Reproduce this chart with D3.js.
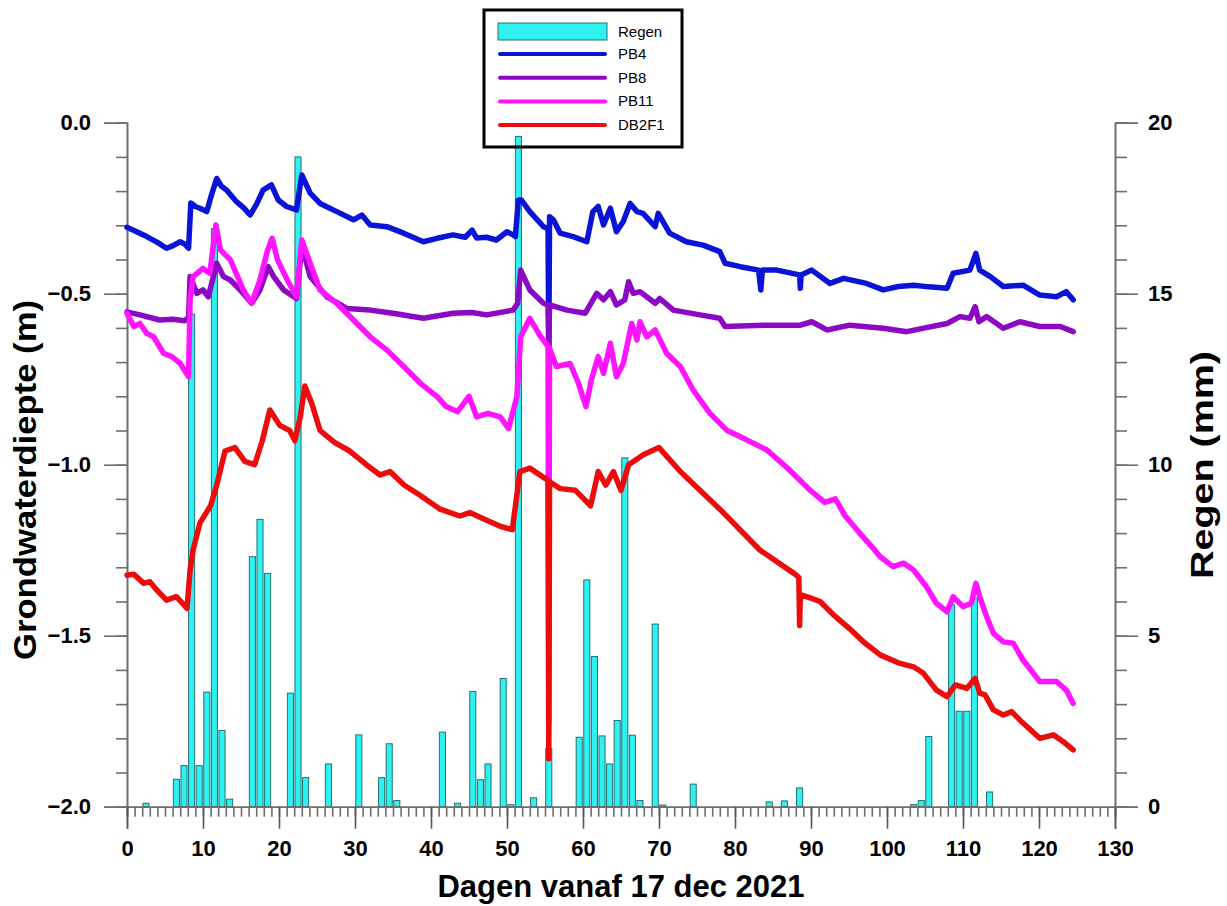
<!DOCTYPE html>
<html>
<head>
<meta charset="utf-8">
<script src="https://cdn.jsdelivr.net/npm/d3@7"></script>
<style>
  body { margin: 0; background: #fff; }
  svg { font-family: "Liberation Sans", Arial, sans-serif; }
</style>
</head>
<body>
<svg id="chart" width="1227" height="906"></svg>
<script>
// Rain per day (mm)
const rainDay = [2, 6, 7, 8, 9, 10, 11, 12, 13, 16, 17, 18, 21, 22, 23, 26, 30, 33, 34, 35, 41, 43, 45, 46, 47, 49, 50, 51,
  53, 55, 59, 60, 61, 62, 63, 64, 65, 66, 67, 69, 70, 74, 84, 86, 88, 103, 104, 105, 108, 109, 110, 111, 113];
const rainMm = [0.1, 0.8, 1.2, 14.4, 1.2, 3.35, 16.9, 2.23, 0.22, 7.31, 8.4, 6.82, 3.32, 19.0, 0.85, 1.25, 2.1, 0.85, 1.84, 0.18, 2.18, 0.1, 3.37, 0.79, 1.25, 3.75, 0.06, 19.6,
  0.26, 1.7, 2.03, 6.63, 4.39, 2.07, 1.25, 2.52, 10.2, 2.09, 0.18, 5.34, 0.05, 0.66, 0.14, 0.17, 0.55, 0.06, 0.18, 2.05, 5.9, 2.79, 2.79, 6.1, 0.43];

// Groundwater depth (m) as [day, value]
const pb4 = [[0,-0.306],[1.2,-0.318],[2.6,-0.333],[4,-0.35],[5.2,-0.367],[6,-0.36],[7,-0.348],[7.6,-0.355],[8.1,-0.367],[8.4,-0.235],[9,-0.245],[9.6,-0.25],[10.5,-0.26],[11,-0.22],[11.8,-0.163],[12.4,-0.185],[13.1,-0.197],[14.4,-0.231],[15.4,-0.25],[16.2,-0.27],[17.1,-0.236],[17.9,-0.197],[19.0,-0.182],[19.9,-0.226],[21.0,-0.245],[22.3,-0.255],[23.0,-0.153],[24.1,-0.206],[25.4,-0.236],[27.6,-0.26],[29.8,-0.284],[30.9,-0.27],[32.0,-0.299],[34.2,-0.304],[36.4,-0.323],[39.0,-0.348],[40.8,-0.338],[42.9,-0.328],[44.5,-0.335],[45.4,-0.314],[46.0,-0.337],[47.3,-0.335],[48.6,-0.343],[50.0,-0.319],[50.8,-0.328],[51.1,-0.333],[51.5,-0.226],[51.9,-0.226],[53.0,-0.26],[54.8,-0.304],[55.4,-0.31],[55.5,-0.68],[55.6,-0.275],[56.1,-0.284],[57.0,-0.323],[58.7,-0.333],[60.5,-0.348],[61.3,-0.26],[62.0,-0.245],[62.7,-0.299],[63.6,-0.25],[64.4,-0.319],[65.3,-0.289],[66.2,-0.236],[67.1,-0.26],[67.9,-0.265],[69.5,-0.304],[69.9,-0.265],[71.4,-0.323],[73.6,-0.348],[75.8,-0.358],[78.0,-0.377],[78.7,-0.411],[80.7,-0.421],[83.1,-0.431],[83.4,-0.489],[83.6,-0.431],[85.5,-0.431],[88.5,-0.445],[88.6,-0.484],[88.7,-0.445],[90.1,-0.431],[92.5,-0.47],[94.3,-0.455],[97.3,-0.47],[99.5,-0.489],[101.5,-0.479],[103.5,-0.475],[105.5,-0.48],[107.9,-0.484],[108.7,-0.44],[110.9,-0.431],[111.7,-0.382],[112.2,-0.431],[113.6,-0.45],[115.3,-0.479],[117.9,-0.475],[120.1,-0.504],[122.3,-0.509],[123.6,-0.494],[124.5,-0.518]];

const pb8 = [[0,-0.553],[1.7,-0.562],[4.3,-0.577],[6,-0.575],[7.6,-0.579],[8.1,-0.57],[8.3,-0.45],[9.2,-0.499],[10.0,-0.489],[10.7,-0.509],[11.8,-0.411],[12.7,-0.45],[13.6,-0.46],[14.9,-0.489],[16.4,-0.528],[17.5,-0.489],[18.6,-0.421],[19.3,-0.45],[20.6,-0.489],[22.3,-0.514],[23.0,-0.358],[24.1,-0.45],[26.3,-0.509],[28.9,-0.543],[32.0,-0.548],[35.0,-0.557],[39.0,-0.572],[42.9,-0.557],[45.4,-0.555],[47.3,-0.562],[50.8,-0.548],[51.4,-0.528],[51.8,-0.431],[53.0,-0.489],[54.8,-0.528],[55.4,-0.533],[55.5,-0.65],[55.6,-0.533],[57.9,-0.548],[60.3,-0.557],[61.8,-0.499],[62.7,-0.518],[63.6,-0.494],[64.4,-0.533],[65.5,-0.518],[66.0,-0.465],[66.6,-0.499],[67.5,-0.494],[69.5,-0.528],[70.1,-0.514],[71.9,-0.548],[75.4,-0.562],[78.0,-0.572],[78.7,-0.596],[84.2,-0.592],[88.6,-0.592],[90.1,-0.582],[92.1,-0.606],[95.1,-0.592],[99.5,-0.601],[102.6,-0.611],[105,-0.6],[107.9,-0.587],[109.6,-0.567],[110.9,-0.572],[111.6,-0.538],[112.1,-0.582],[113.1,-0.567],[115.3,-0.601],[117.5,-0.582],[120.1,-0.596],[122.8,-0.596],[124.5,-0.611]];

const pb11 = [[0,-0.557],[0.9,-0.596],[1.7,-0.587],[2.6,-0.616],[3.5,-0.626],[4.8,-0.674],[5.9,-0.684],[7.0,-0.704],[8.1,-0.743],[8.3,-0.518],[8.7,-0.45],[10.0,-0.426],[10.9,-0.44],[11.7,-0.299],[12.3,-0.372],[13.6,-0.401],[15.3,-0.489],[16.4,-0.528],[17.5,-0.46],[18.5,-0.372],[19.1,-0.338],[19.8,-0.401],[21.1,-0.46],[22.3,-0.509],[23.0,-0.343],[24.1,-0.411],[25.4,-0.489],[27.6,-0.528],[29.8,-0.577],[32.0,-0.626],[34.2,-0.665],[36.4,-0.713],[38.6,-0.762],[40.8,-0.801],[42,-0.83],[43.5,-0.845],[45,-0.80],[46,-0.86],[47.5,-0.85],[49.1,-0.86],[50.2,-0.894],[51.3,-0.801],[51.8,-0.626],[53.0,-0.572],[54.3,-0.621],[55.4,-0.655],[55.5,-1.75],[55.6,-0.66],[56.5,-0.713],[58.3,-0.704],[59.4,-0.762],[60.4,-0.83],[61.1,-0.752],[62.0,-0.684],[62.7,-0.733],[63.6,-0.645],[64.4,-0.743],[65.3,-0.704],[66.4,-0.587],[67.1,-0.635],[67.5,-0.582],[68.4,-0.626],[69.5,-0.606],[71.0,-0.674],[72.8,-0.713],[74.5,-0.782],[76.7,-0.85],[78.9,-0.899],[80.7,-0.918],[84.2,-0.957],[87.2,-1.016],[89.9,-1.075],[91.8,-1.11],[93.2,-1.10],[94.5,-1.15],[96.4,-1.2],[98.4,-1.25],[99.1,-1.269],[100.8,-1.298],[102.2,-1.288],[103.5,-1.308],[105.2,-1.357],[106.5,-1.405],[107.9,-1.43],[108.7,-1.386],[110.0,-1.415],[111.1,-1.405],[111.7,-1.347],[112.2,-1.386],[113.1,-1.444],[114.0,-1.493],[115.3,-1.518],[116.6,-1.522],[117.9,-1.571],[120.1,-1.634],[122.3,-1.634],[123.6,-1.659],[124.5,-1.698]];

const db2f1 = [[0,-1.323],[0.9,-1.32],[2.2,-1.347],[3.0,-1.342],[3.9,-1.366],[5.2,-1.396],[6.5,-1.386],[7.9,-1.42],[8.3,-1.308],[8.7,-1.249],[9.6,-1.17],[11,-1.12],[11.8,-1.06],[12.9,-0.96],[14.2,-0.95],[15.5,-0.99],[16.8,-1.0],[17.8,-0.93],[18.8,-0.84],[20.1,-0.885],[21.4,-0.9],[22.1,-0.93],[22.8,-0.86],[23.4,-0.77],[24.3,-0.82],[25.4,-0.9],[27.3,-0.935],[29.3,-0.96],[31.5,-1.0],[33.3,-1.03],[34.6,-1.02],[36.5,-1.06],[38.6,-1.09],[41.2,-1.13],[43.8,-1.15],[45.1,-1.14],[47.1,-1.16],[49.1,-1.18],[50.7,-1.19],[51.7,-1.02],[53,-1.01],[55,-1.04],[55.4,-1.045],[55.5,-1.86],[55.6,-1.05],[57,-1.07],[59,-1.075],[61,-1.12],[62,-1.02],[63,-1.06],[64,-1.02],[65,-1.075],[66,-1.0],[68,-0.97],[70,-0.95],[72.8,-1.02],[78,-1.13],[83.3,-1.25],[87.9,-1.32],[88.4,-1.33],[88.5,-1.47],[88.6,-1.38],[90,-1.39],[91.2,-1.4],[93,-1.44],[95.1,-1.48],[97,-1.52],[99.1,-1.556],[101.7,-1.581],[103.5,-1.591],[104.8,-1.61],[106.5,-1.659],[107.9,-1.678],[109.0,-1.644],[110.5,-1.654],[111.6,-1.625],[112.2,-1.668],[112.9,-1.673],[114.0,-1.717],[115.3,-1.732],[116.4,-1.722],[117.5,-1.747],[120.1,-1.8],[121.9,-1.79],[123.2,-1.81],[124.5,-1.834]];

const seriesNames = ['PB4', 'PB8', 'PB11', 'DB2F1'];
const seriesData = [pb4, pb8, pb11, db2f1];
const seriesColors = ['#0a14d6', '#8c08c4', '#ff14ff', '#ec0c0c'];

const xMajor = d3.range(0, 131, 10);
const xMinor = d3.range(0, 131, 1);
const yMajor = [0, -0.5, -1, -1.5, -2];
const yMinor = d3.range(0, 21).map(i => -i / 10);
const rMajor = [0, 5, 10, 15, 20];
const rMinor = d3.range(0, 21);

const svg = d3.select('#chart');
const plotLeft = 127, plotRight = 1115, plotTop = 122.7, plotBottom = 806.7;

const x = d3.scaleLinear().domain([0, 130]).range([plotLeft, plotRight]);
const y = d3.scaleLinear().domain([-2, 0]).range([plotBottom, plotTop]);
const yr = d3.scaleLinear().domain([0, 20]).range([plotBottom, plotTop]);

const axisColor = '#6e6e6e';

// rain bars
svg.append('g').selectAll('rect')
  .data(rainDay)
  .enter().append('rect')
  .attr('x', d => x(d + 0.1))
  .attr('width', x(0.8) - x(0))
  .attr('y', (d, i) => yr(rainMm[i]))
  .attr('height', (d, i) => plotBottom - yr(rainMm[i]))
  .attr('fill', '#2ef2f2')
  .attr('stroke', '#2a6f6f')
  .attr('stroke-width', 1);

// minor/major axes
function styleAxis(g) {
  g.select('.domain').attr('stroke', axisColor).attr('stroke-width', 1.6);
  g.selectAll('.tick line').attr('stroke', axisColor).attr('stroke-width', 1.6);
  g.selectAll('.tick text').attr('fill', '#000').style('font-size', '22px').style('font-weight', 'bold');
}

svg.append('g').attr('transform', `translate(0,${plotBottom})`)
  .call(d3.axisBottom(x).tickValues(xMinor).tickSize(10).tickFormat(''))
  .call(styleAxis);
svg.append('g').attr('transform', `translate(0,${plotBottom})`)
  .call(d3.axisBottom(x).tickValues(xMajor).tickSize(22).tickPadding(12).tickFormat(d3.format('d')))
  .call(styleAxis)
  .call(g => g.selectAll('.tick line').attr('stroke', '#555'));

svg.append('g').attr('transform', `translate(${plotLeft},0)`)
  .call(d3.axisLeft(y).tickValues(yMinor).tickSize(11).tickFormat(''))
  .call(styleAxis);
svg.append('g').attr('transform', `translate(${plotLeft},0)`)
  .call(d3.axisLeft(y).tickValues(yMajor).tickSize(23).tickPadding(13).tickFormat(d3.format('.1f')))
  .call(styleAxis);

svg.append('g').attr('transform', `translate(${plotRight},0)`)
  .call(d3.axisRight(yr).tickValues(rMinor).tickSize(12).tickFormat(''))
  .call(styleAxis);
svg.append('g').attr('transform', `translate(${plotRight},0)`)
  .call(d3.axisRight(yr).tickValues(rMajor).tickSize(23).tickPadding(10).tickFormat(d3.format('d')))
  .call(styleAxis);

// lines
const line = d3.line().x(d => x(d[0])).y(d => y(d[1]));
seriesData.forEach((s, i) => {
  svg.append('path')
    .datum(s)
    .attr('d', line)
    .attr('fill', 'none')
    .attr('stroke', seriesColors[i])
    .attr('stroke-width', 5.5)
    .attr('stroke-linejoin', 'round')
    .attr('stroke-linecap', 'round');
});

// axis titles
svg.append('text')
  .attr('x', (plotLeft + plotRight) / 2).attr('y', 897)
  .attr('text-anchor', 'middle')
  .style('font-size', '31px').style('font-weight', 'bold')
  .text('Dagen vanaf 17 dec 2021');

svg.append('text')
  .attr('transform', 'translate(36,480) rotate(-90)')
  .attr('text-anchor', 'middle')
  .attr('textLength', 360).attr('lengthAdjust', 'spacingAndGlyphs')
  .style('font-size', '31px').style('font-weight', 'bold')
  .text('Grondwaterdiepte (m)');

svg.append('text')
  .attr('transform', 'translate(1213,465) rotate(-90)')
  .attr('text-anchor', 'middle')
  .attr('textLength', 228).attr('lengthAdjust', 'spacingAndGlyphs')
  .style('font-size', '31px').style('font-weight', 'bold')
  .text('Regen (mm)');

// legend
const legend = svg.append('g');
legend.append('rect')
  .attr('x', 484).attr('y', 10).attr('width', 198).attr('height', 137)
  .attr('fill', 'none').attr('stroke', '#000').attr('stroke-width', 3);
legend.append('rect')
  .attr('x', 498).attr('y', 23).attr('width', 109).attr('height', 17)
  .attr('fill', '#2ef2f2').attr('stroke', '#2a6f6f');
legend.append('text')
  .attr('x', 618).attr('y', 37).style('font-size', '15px').text('Regen');
seriesNames.forEach((n, i) => {
  const ly = 54 + i * 23.7;
  legend.append('line')
    .attr('x1', 500).attr('x2', 605).attr('y1', ly).attr('y2', ly)
    .attr('stroke', seriesColors[i]).attr('stroke-width', 4).attr('stroke-linecap', 'round');
  legend.append('text')
    .attr('x', 618).attr('y', ly + 5).style('font-size', '15px').text(n);
});
</script>
</body>
</html>
